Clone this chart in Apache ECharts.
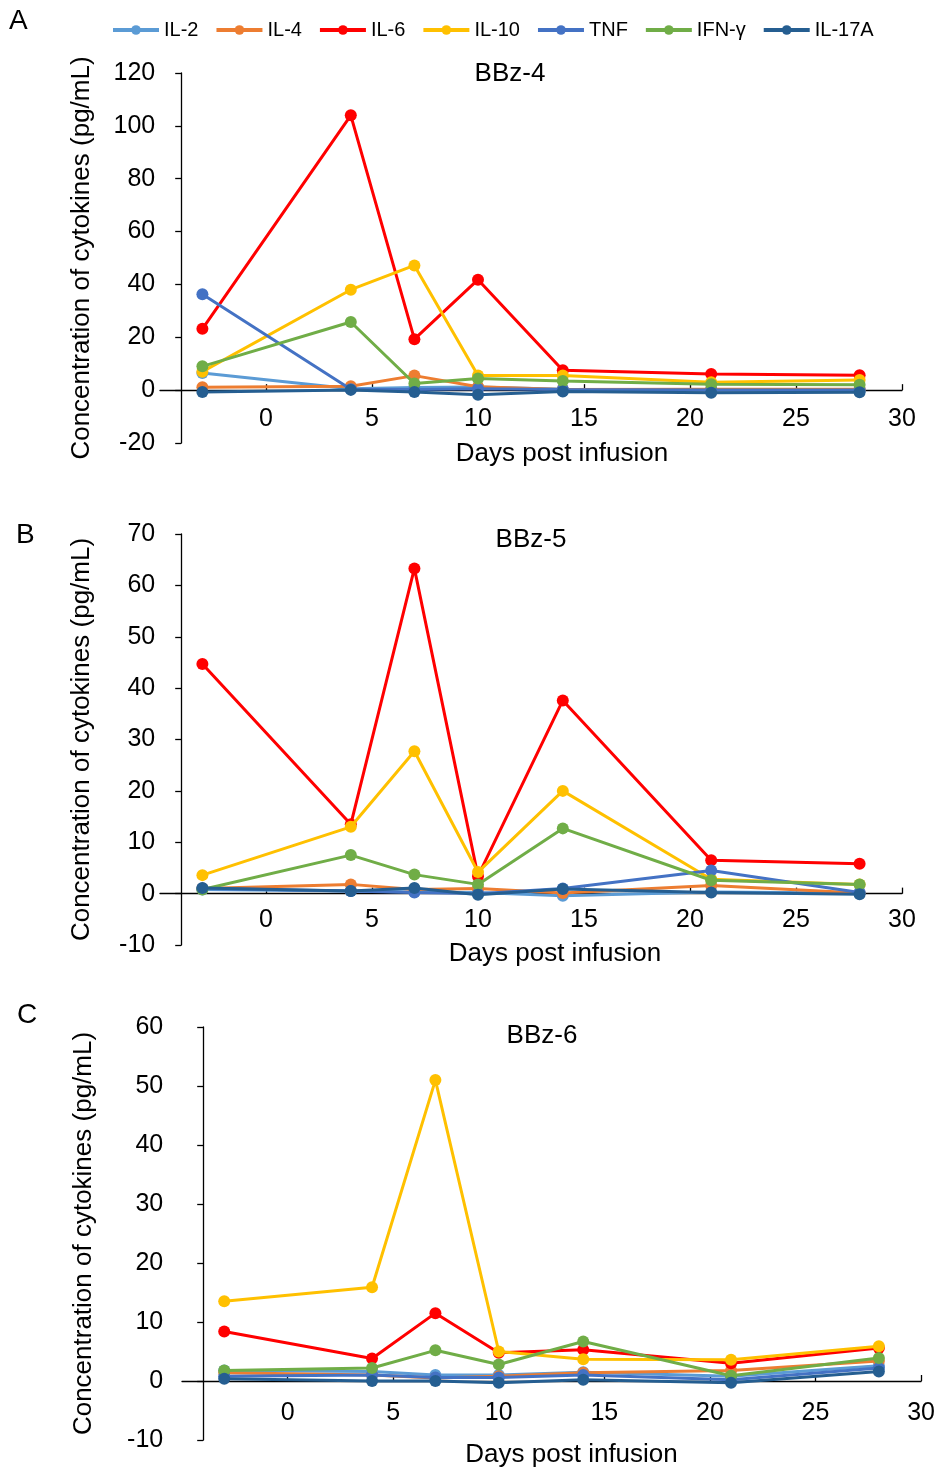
<!DOCTYPE html>
<html><head><meta charset="utf-8">
<script src="https://cdn.jsdelivr.net/npm/echarts@6/dist/echarts.min.js"></script>
<style>html,body{margin:0;padding:0;background:#fff}#c{width:938px;height:1472px}</style>
</head><body><div id="c"></div>
<script>
const days = [-3, 4, 7, 10, 14, 21, 28];
const cytokines = ['IL-2', 'IL-4', 'IL-6', 'IL-10', 'TNF', 'IFN-γ', 'IL-17A'];
const colors = ['#5B9BD5', '#ED7D31', '#FF0000', '#FFC000', '#4472C4', '#70AD47', '#255E91'];
const panelTitles = ['BBz-4', 'BBz-5', 'BBz-6'];
const panelLetters = ['A', 'B', 'C'];
const xTicks = [0, 5, 10, 15, 20, 25, 30];

// BBz-4
const bbz4_IL2   = [6.5, 0.5, 1.0, 1.2, 0.3, 0.2, 0.2];
const bbz4_IL4   = [1.1, 1.5, 5.5, 1.3, 0.2, 0.3, 0.3];
const bbz4_IL6   = [23.2, 104, 19.3, 41.8, 7.5, 6.1, 5.6];
const bbz4_IL10  = [7.0, 38, 47.2, 5.5, 5.5, 3.0, 3.8];
const bbz4_TNF   = [36.3, 0.3, 0.2, 0.5, 0.2, 0.1, 0.1];
const bbz4_IFNg  = [9.0, 25.8, 2.5, 4.4, 3.5, 2.2, 2.0];
const bbz4_IL17A = [-0.7, 0.1, -0.7, -1.7, -0.5, -1.0, -0.8];
// BBz-5
const bbz5_IL2   = [0.8, 0.5, 0.3, 0.2, -0.4, 0.3, 0.1];
const bbz5_IL4   = [1.0, 1.8, 0.8, 1.0, 0.1, 1.6, 0.1];
const bbz5_IL6   = [44.7, 13.5, 63.3, 3.4, 37.6, 6.5, 5.8];
const bbz5_IL10  = [3.6, 13.0, 27.7, 4.2, 20.0, 2.8, 1.8];
const bbz5_TNF   = [1.0, 0.5, 0.2, 0.0, 1.0, 4.5, 0.2];
const bbz5_IFNg  = [0.8, 7.5, 3.7, 1.8, 12.7, 2.6, 1.8];
const bbz5_IL17A = [1.1, 0.5, 1.1, -0.2, 0.9, 0.2, -0.1];
// BBz-6
const bbz6_IL2   = [1.8, 1.6, 1.0, 1.0, 1.5, 0.8, 2.6];
const bbz6_IL4   = [1.4, 1.0, 0.5, 0.8, 1.4, 1.8, 3.4];
const bbz6_IL6   = [8.4, 3.8, 11.5, 4.8, 5.3, 3.0, 5.6];
const bbz6_IL10  = [13.5, 15.9, 51.0, 5.0, 3.7, 3.6, 5.9];
const bbz6_TNF   = [0.8, 1.0, 0.6, 0.6, 1.0, 0.2, 2.2];
const bbz6_IFNg  = [1.8, 2.2, 5.2, 2.8, 6.7, 0.9, 3.9];
const bbz6_IL17A = [0.4, 0.0, 0.0, -0.3, 0.2, -0.3, 1.6];

const panels = [
  [bbz4_IL2, bbz4_IL4, bbz4_IL6, bbz4_IL10, bbz4_TNF, bbz4_IFNg, bbz4_IL17A],
  [bbz5_IL2, bbz5_IL4, bbz5_IL6, bbz5_IL10, bbz5_TNF, bbz5_IFNg, bbz5_IL17A],
  [bbz6_IL2, bbz6_IL4, bbz6_IL6, bbz6_IL10, bbz6_TNF, bbz6_IFNg, bbz6_IL17A]
];
const yRanges = [[-20, 120, 20], [-10, 70, 10], [-10, 60, 10]];

// layout
const grids = [
  {left: 160, width: 742, top: 73, height: 370},
  {left: 160, width: 742, top: 534, height: 411},
  {left: 182, width: 742, top: 1027, height: 413}
];
const layout = [
  {yLabelMargin: 26, yNameGap: 86, xLabelMargin: 16, xNameGap: 51, xNamePad: 62, titleX: 510, titleY: 61},
  {yLabelMargin: 26, yNameGap: 86, xLabelMargin: 14, xNameGap: 47, xNamePad: 48, titleX: 531, titleY: 527},
  {yLabelMargin: 40, yNameGap: 106, xLabelMargin: 20, xNameGap: 61, xNamePad: 40, titleX: 542, titleY: 1023}
];
const letterPos = [[9, 7], [16, 521], [17, 1001]];
const FONT = 'Liberation Sans, Arial, sans-serif';

const chart = echarts.init(document.getElementById('c'), null, {renderer: 'canvas'});
const titles = [], xAxes = [], yAxes = [], series = [];
panelTitles.forEach((t, p) => {
  titles.push({text: t, left: layout[p].titleX, top: layout[p].titleY, textAlign: 'center', padding: 0,
    textStyle: {fontFamily: FONT, fontSize: 26, fontWeight: 'normal', color: '#000'}});
  titles.push({text: panelLetters[p], left: letterPos[p][0], top: letterPos[p][1], padding: 0,
    textStyle: {fontFamily: FONT, fontSize: 28, fontWeight: 'normal', color: '#000'}});
  const g = grids[p];
  const yr = yRanges[p];
  const pxPerDay = g.width / 35;
  const zeroFromBottom = g.height * (0 - yr[0]) / (yr[1] - yr[0]);
  xAxes.push({
    type: 'value', gridIndex: p, min: -5, max: 30, interval: 5, position: 'bottom', offset: -zeroFromBottom,
    axisLine: {show: true, onZero: false, lineStyle: {color: '#000', width: 1.3}},
    axisTick: {show: true, inside: true, length: 6, customValues: xTicks, lineStyle: {color: '#000', width: 1.3}},
    axisLabel: {customValues: xTicks, fontFamily: FONT, fontSize: 25, color: '#000', margin: layout[p].xLabelMargin},
    splitLine: {show: false},
    name: 'Days post infusion', nameLocation: 'middle', nameGap: layout[p].xNameGap,
    nameTextStyle: {fontFamily: FONT, fontSize: 26, color: '#000', padding: [0, 0, 0, layout[p].xNamePad]}
  });
  yAxes.push({
    type: 'value', gridIndex: p, min: yr[0], max: yr[1], interval: yr[2], offset: -pxPerDay,
    axisLine: {show: true, onZero: false, lineStyle: {color: '#000', width: 1.3}},
    axisTick: {show: true, inside: false, length: 6, lineStyle: {color: '#000', width: 1.3}},
    axisLabel: {fontFamily: FONT, fontSize: 25, color: '#000', margin: layout[p].yLabelMargin},
    splitLine: {show: false},
    name: 'Concentration of cytokines (pg/mL)', nameLocation: 'middle', nameGap: layout[p].yNameGap,
    nameTextStyle: {fontFamily: FONT, fontSize: 26, color: '#000'}
  });
  panels[p].forEach((vals, i) => {
    series.push({
      type: 'line', name: cytokines[i], xAxisIndex: p, yAxisIndex: p,
      data: days.map((d, k) => [d, vals[k]]),
      symbol: 'circle', symbolSize: 12, color: colors[i],
      lineStyle: {width: 3, color: colors[i]}, itemStyle: {color: colors[i]},
      z: 2 + i
    });
  });
});

chart.setOption({
  animation: false,
  backgroundColor: '#fff',
  title: titles,
  legend: {
    data: cytokines, left: 106, top: 15, itemWidth: 46, itemHeight: 12, itemGap: 16,
    lineStyle: {width: 4},
    textStyle: {fontFamily: FONT, fontSize: 20, color: '#000'}
  },
  grid: grids.map(g => Object.assign({containLabel: false}, g)),
  xAxis: xAxes,
  yAxis: yAxes,
  series: series
});
</script></body></html>
